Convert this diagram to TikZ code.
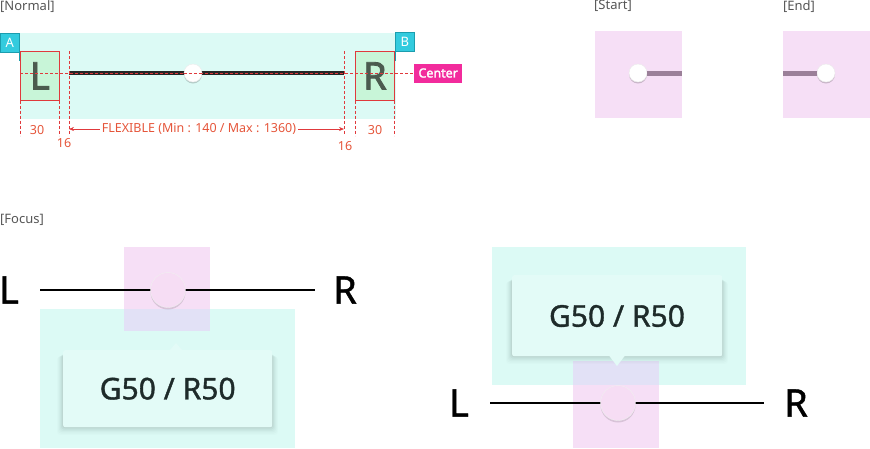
\documentclass[tikz,border=0pt]{standalone}
\usepackage{fontspec}
\setmainfont{Noto Sans}
\newfontfamily\medfont[FakeBold=1.2]{Noto Sans}
\newfontfamily\semifont[FakeBold=2.2]{Noto Sans}
\usetikzlibrary{arrows.meta,shadows}
\definecolor{cyanbg}{HTML}{DCFAF5}
\definecolor{pinkbg}{HTML}{F6DFF6}
\definecolor{lavbg}{HTML}{E2E1F6}
\definecolor{greenbox}{HTML}{C8F5D8}
\definecolor{redline}{HTML}{E0393C}
\definecolor{dimtext}{HTML}{E5553A}
\definecolor{tagcyan}{HTML}{33CBDE}
\definecolor{tagdark}{HTML}{1C9DAE}
\definecolor{tagpink}{HTML}{F22B9C}
\definecolor{trackpurple}{HTML}{9B8099}
\definecolor{labelgrey}{HTML}{555555}
\definecolor{letterc}{HTML}{4B5B4E}
\definecolor{thumbpink}{HTML}{F6DDF4}
\definecolor{tipfill}{HTML}{E3FBF7}
\definecolor{tiptext}{HTML}{1E2B2A}
\tikzset{
  seclabel/.style={anchor=north west, inner sep=0pt, text=labelgrey, font=\fontsize{13}{13}\selectfont},
  dimline/.style={draw=redline, dashed, dash pattern=on 3pt off 2pt, line width=0.6pt},
  dimlabel/.style={inner sep=0pt, text=dimtext, font=\fontsize{12.5}{12.5}\selectfont},
  endbox/.style={draw=redline, fill=greenbox, line width=0.7pt, minimum width=39pt, minimum height=49pt, inner sep=0pt, anchor=north west, text=letterc, font=\fontsize{38}{38}\semifont},
  tagbox/.style={fill=tagcyan, draw=tagdark, line width=0.7pt, minimum size=19pt, inner sep=0pt, anchor=north west, text=white, font=\fontsize{13}{13}\selectfont},
  smallthumb/.style={circle, fill=white, draw=black!8, minimum size=18pt, inner sep=0pt, drop shadow={shadow xshift=0pt, shadow yshift=-1.5pt, opacity=0.18, fill=black}},
  bigthumb/.style={circle, fill=thumbpink, draw=black!6, minimum size=35pt, inner sep=0pt, drop shadow={shadow xshift=0pt, shadow yshift=-2pt, opacity=0.12, fill=black}},
  bigletter/.style={inner sep=0pt, text=black, font=\fontsize{38}{38}\medfont},
  tiptextstyle/.style={inner sep=0pt, text=tiptext, font=\fontsize{30}{30}\medfont},
  focusline/.style={line width=2.6pt, black},
  dimarrow/.style={draw=redline, line width=0.6pt, -{Stealth[length=5pt,width=4pt]}}
}
\begin{document}
\begin{tikzpicture}[x=1pt,y=-1pt]
\useasboundingbox (0,0) rectangle (870,448);

% ---------------- Normal ----------------
\node[seclabel] (normallbl) at (0,0) {[Normal]};
\fill[cyanbg] (20,33) rectangle (396,119);

\node[endbox] (Lbox) at (20,51) {L};
\node[endbox] (Rbox) at (355,51) {R};

\coordinate (trackL) at (69,73);
\coordinate (trackR) at (344,73);
\draw[line width=3.2pt, black!85] (trackL) -- (trackR);

\node[tagbox] (tagA) at (0,33) {A};
\node[tagbox] (tagB) at (395,32) {B};
\draw[tagdark, line width=0.8pt] (tagA.south east) -- ++(0,8);
\draw[tagdark, line width=0.8pt] (tagB.south west) -- ++(0,9);

\node[fill=tagpink, text=white, minimum width=48pt, minimum height=19pt, inner sep=0pt, anchor=west, font=\fontsize{12.5}{12.5}\semifont] (ctr) at (414,73) {Center};
\coordinate (ctrL) at (20,73);
\draw[dimline] (ctrL) -- (ctr.west);

\node[smallthumb] (thumbN) at (193,73) {};
\draw[dimline] (thumbN.west) -- (thumbN.east);

% dimension lines
\draw[dimline] (Lbox.south west) -- ++(0,35);
\draw[dimline] (Lbox.south east) -- ++(0,35);
\draw[dimline] (69,51) -- (69,135);
\draw[dimline] (344,51) -- (344,135);
\draw[dimline] (Rbox.south west) -- ++(0,35);
\draw[dimline] (Rbox.south east) -- ++(0,35);

\node[dimlabel] (d30a) at (37,130) {30};
\node[dimlabel] (d16a) at (64,143) {16};
\node[dimlabel] (flex) at (199,129) {FLEXIBLE (Min : 140 / Max : 1360)};
\node[dimlabel] (d16b) at (345,146) {16};
\node[dimlabel] (d30b) at (375,130) {30};
\coordinate (flexL) at (69,129);
\coordinate (flexR) at (344,129);
\draw[dimarrow] ([xshift=-2pt]flex.west) -- (flexL);
\draw[dimarrow] ([xshift=2pt]flex.east) -- (flexR);

% ---------------- Start / End ----------------
\node[seclabel] (startlbl) at (594,0) {[Start]};
\fill[pinkbg] (595,31) rectangle (682,118);
\coordinate (startEnd) at (682,73);
\node[smallthumb] (thumbS) at (638,73) {};
\draw[trackpurple, line width=5pt] (thumbS.east) -- (startEnd);

\node[seclabel] (endlbl) at (783,0) {[End]};
\fill[pinkbg] (783,31) rectangle (870,118);
\coordinate (endStart) at (783,73);
\node[smallthumb] (thumbE) at (826,73) {};
\draw[trackpurple, line width=5pt] (endStart) -- (thumbE.west);

% ---------------- Focus ----------------
\node[seclabel] (focuslbl) at (0,214) {[Focus]};

% left example
\fill[pinkbg] (124,247) rectangle (210,309);
\fill[cyanbg] (40,309) rectangle (295,448);
\fill[lavbg] (124,309) rectangle (210,331);
\node[bigletter] (fL1) at (9,290) {L};
\node[bigletter] (fR1) at (345,290) {R};
\coordinate (fa1) at (40,290);
\coordinate (fb1) at (315,290);
\draw[focusline] (fa1) -- (fb1);
\node[bigthumb] (thumbF1) at (168,290) {};
\foreach \i/\o in {1/0.035,2/0.03,3/0.025,4/0.02,5/0.015,6/0.01}{
  \fill[black, opacity=\o, rounded corners=3pt] (63-\i,353+\i*0.6) rectangle (272+\i,427+\i*1.3);
}
\fill[tipfill] (170,350) -- (176,343) -- (182,350) -- cycle;
\node[fill=tipfill, minimum width=209pt, minimum height=77pt, inner sep=0pt, rounded corners=2pt, anchor=north west] (tip1) at (63,350) {};
\node[tiptextstyle] (tip1txt) at (tip1.center) {G50 / R50};

% right example
\fill[cyanbg] (492,247) rectangle (746,361);
\fill[pinkbg] (573,385) rectangle (659,448);
\fill[cyanbg] (492,361) rectangle (573,385);
\fill[cyanbg] (659,361) rectangle (746,385);
\fill[lavbg] (573,361) rectangle (659,385);
\foreach \i/\o in {1/0.035,2/0.03,3/0.025,4/0.02,5/0.015,6/0.01}{
  \fill[black, opacity=\o, rounded corners=3pt] (512-\i,278+\i*0.6) rectangle (722+\i,356+\i*1.3);
}
\node[fill=tipfill, minimum width=210pt, minimum height=81pt, inner sep=0pt, rounded corners=2pt, anchor=north west] (tip2) at (512,275) {};
\fill[tipfill] (609,355.5) -- (617,366) -- (625,355.5) -- cycle;
\node[tiptextstyle] (tip2txt) at (617,316) {G50 / R50};
\node[bigletter] (fL2) at (459,403) {L};
\node[bigletter] (fR2) at (796,403) {R};
\coordinate (fa2) at (490,403);
\coordinate (fb2) at (764,403);
\draw[focusline] (fa2) -- (fb2);
\node[bigthumb] (thumbF2) at (618,403) {};
\end{tikzpicture}
\end{document}
